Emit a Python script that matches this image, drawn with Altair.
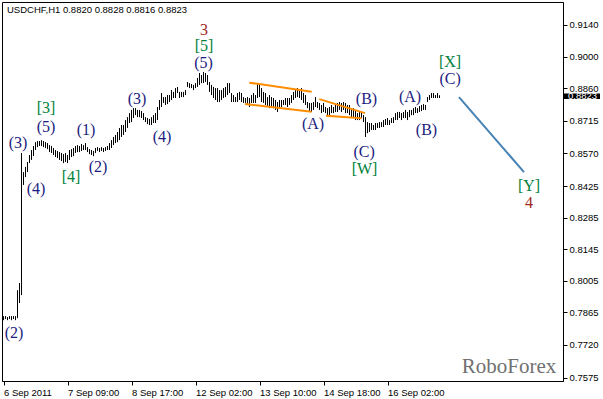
import altair as alt
import pandas as pd

# ---- OHLC bars (H1), high / low ----
highs = [
    0.7848, 0.7848, 0.7844, 0.7848, 0.7848, 0.7848, 0.7848, 0.7963, 0.7995, 0.8572,
    0.8487, 0.8510, 0.8532, 0.8563, 0.8585, 0.8603, 0.8620, 0.8625, 0.8625, 0.8629,
    0.8625, 0.8620, 0.8616, 0.8607, 0.8603, 0.8594, 0.8585, 0.8581, 0.8576, 0.8572,
    0.8567, 0.8572, 0.8563, 0.8585, 0.8589, 0.8594, 0.8603, 0.8607, 0.8603, 0.8612,
    0.8607, 0.8616, 0.8598, 0.8589, 0.8585, 0.8581, 0.8594, 0.8598, 0.8594, 0.8598,
    0.8594, 0.8598, 0.8603, 0.8616, 0.8629, 0.8643, 0.8652, 0.8665, 0.8683, 0.8696,
    0.8696, 0.8718, 0.8731, 0.8749, 0.8763, 0.8771, 0.8771, 0.8763, 0.8763, 0.8758,
    0.8749, 0.8731, 0.8727, 0.8723, 0.8731, 0.8740, 0.8749, 0.8776, 0.8807, 0.8838,
    0.8820, 0.8820, 0.8829, 0.8829, 0.8851, 0.8843, 0.8860, 0.8865, 0.8843, 0.8843,
    0.8843, 0.8851, 0.8887, 0.8882, 0.8878, 0.8874, 0.8882, 0.8905, 0.8927, 0.8918,
    0.8931, 0.8927, 0.8918, 0.8887, 0.8874, 0.8865, 0.8860, 0.8860, 0.8851, 0.8851,
    0.8860, 0.8865, 0.8882, 0.8882, 0.8838, 0.8829, 0.8820, 0.8838, 0.8843, 0.8838,
    0.8820, 0.8816, 0.8820, 0.8816, 0.8829, 0.8838, 0.8829, 0.8882, 0.8874, 0.8860,
    0.8843, 0.8838, 0.8820, 0.8829, 0.8820, 0.8816, 0.8807, 0.8798, 0.8807, 0.8807,
    0.8807, 0.8816, 0.8816, 0.8816, 0.8829, 0.8843, 0.8851, 0.8860, 0.8851, 0.8860,
    0.8838, 0.8829, 0.8798, 0.8794, 0.8794, 0.8798, 0.8820, 0.8798, 0.8794, 0.8785,
    0.8794, 0.8776, 0.8771, 0.8776, 0.8785, 0.8776, 0.8785, 0.8794, 0.8798, 0.8794,
    0.8798, 0.8794, 0.8785, 0.8785, 0.8771, 0.8771, 0.8763, 0.8749, 0.8754, 0.8754,
    0.8740, 0.8731, 0.8709, 0.8705, 0.8705, 0.8696, 0.8705, 0.8705, 0.8709, 0.8709,
    0.8718, 0.8723, 0.8727, 0.8718, 0.8727, 0.8731, 0.8749, 0.8754, 0.8754, 0.8749,
    0.8754, 0.8763, 0.8754, 0.8763, 0.8763, 0.8771, 0.8776, 0.8771, 0.8780, 0.8785,
    0.8789, 0.8785, 0.8820, 0.8829, 0.8838, 0.8838, 0.8829, 0.8838, 0.8828,
]
lows = [
    0.7830, 0.7835, 0.7830, 0.7835, 0.7830, 0.7835, 0.7830, 0.7839, 0.7906, 0.7941,
    0.8430, 0.8465, 0.8487, 0.8527, 0.8541, 0.8558, 0.8585, 0.8598, 0.8603, 0.8603,
    0.8598, 0.8594, 0.8589, 0.8576, 0.8572, 0.8563, 0.8554, 0.8549, 0.8541, 0.8536,
    0.8527, 0.8532, 0.8527, 0.8541, 0.8554, 0.8558, 0.8572, 0.8576, 0.8576, 0.8581,
    0.8585, 0.8585, 0.8576, 0.8567, 0.8563, 0.8558, 0.8572, 0.8581, 0.8576, 0.8581,
    0.8576, 0.8581, 0.8585, 0.8585, 0.8594, 0.8607, 0.8616, 0.8620, 0.8629, 0.8643,
    0.8652, 0.8665, 0.8683, 0.8705, 0.8709, 0.8727, 0.8740, 0.8731, 0.8731, 0.8727,
    0.8718, 0.8709, 0.8700, 0.8696, 0.8696, 0.8705, 0.8705, 0.8718, 0.8763, 0.8776,
    0.8794, 0.8785, 0.8789, 0.8798, 0.8807, 0.8816, 0.8816, 0.8838, 0.8816, 0.8820,
    0.8820, 0.8829, 0.8865, 0.8860, 0.8860, 0.8851, 0.8860, 0.8865, 0.8874, 0.8882,
    0.8882, 0.8887, 0.8874, 0.8843, 0.8829, 0.8816, 0.8807, 0.8798, 0.8798, 0.8807,
    0.8816, 0.8820, 0.8829, 0.8838, 0.8798, 0.8798, 0.8798, 0.8798, 0.8807, 0.8798,
    0.8794, 0.8794, 0.8785, 0.8776, 0.8794, 0.8794, 0.8794, 0.8816, 0.8820, 0.8798,
    0.8794, 0.8785, 0.8776, 0.8771, 0.8776, 0.8771, 0.8763, 0.8754, 0.8771, 0.8776,
    0.8785, 0.8785, 0.8776, 0.8785, 0.8794, 0.8807, 0.8816, 0.8820, 0.8816, 0.8807,
    0.8794, 0.8785, 0.8771, 0.8754, 0.8754, 0.8763, 0.8776, 0.8771, 0.8763, 0.8749,
    0.8754, 0.8749, 0.8740, 0.8740, 0.8749, 0.8749, 0.8754, 0.8754, 0.8763, 0.8754,
    0.8763, 0.8749, 0.8749, 0.8740, 0.8731, 0.8727, 0.8718, 0.8718, 0.8718, 0.8727,
    0.8709, 0.8643, 0.8660, 0.8665, 0.8674, 0.8674, 0.8674, 0.8683, 0.8683, 0.8687,
    0.8687, 0.8696, 0.8696, 0.8696, 0.8705, 0.8705, 0.8718, 0.8718, 0.8727, 0.8718,
    0.8727, 0.8727, 0.8718, 0.8731, 0.8740, 0.8740, 0.8749, 0.8749, 0.8754, 0.8758,
    0.8763, 0.8763, 0.8798, 0.8807, 0.8816, 0.8816, 0.8816, 0.8816, 0.8816,
]
last_close = 0.8823
title_text = "USDCHF,H1  0.8820 0.8828 0.8816 0.8823"

# ---- axes ----
x_ticks = [0, 32, 64, 96, 128, 160, 192]
x_labels = ["6 Sep 2011", "7 Sep 09:00", "8 Sep 17:00", "12 Sep 02:00",
            "13 Sep 10:00", "14 Sep 18:00", "16 Sep 02:00"]
y_ticks = [0.9140, 0.9000, 0.8860, 0.8715, 0.8570, 0.8425, 0.8285,
           0.8145, 0.8005, 0.7865, 0.7720, 0.7575]

# ---- wave labels ----
wave_text = ["(2)", "(3)", "(4)", "(5)", "[3]", "(1)", "[4]", "(2)", "(3)", "(4)",
             "(5)", "[5]", "3", "(A)", "(B)", "(C)", "[W]", "(A)", "(B)", "(C)",
             "[X]", "[Y]", "4"]
wave_t = [5.3, 7.3, 16.3, 21.3, 21.3, 41.3, 33.8, 47.3, 66.8, 79.3,
          100.0, 100.3, 100.3, 154.8, 181.5, 180.3, 180.5, 203.3, 211.5, 223.3,
          223.3, 262.8, 262.8]
wave_p = [0.7773, 0.8616, 0.8412, 0.8687, 0.8771, 0.8674, 0.8465, 0.8510, 0.8811, 0.8643,
          0.8971, 0.9047, 0.9118, 0.8700, 0.8811, 0.8576, 0.8501, 0.8820, 0.8674, 0.8902,
          0.8975, 0.8425, 0.8352]
wave_kind = ["minor", "minor", "minor", "minor", "inter", "minor", "inter", "minor", "minor", "minor",
             "minor", "inter", "major", "minor", "minor", "minor", "inter", "minor", "minor", "minor",
             "inter", "inter", "major"]

# ---- trend lines ----
seg_t1 = [122.9, 120.75, 157.9, 161.25]
seg_t2 = [154.1, 154.1, 180.75, 179.1]
seg_p1 = [0.8884, 0.8789, 0.8811, 0.8737]
seg_p2 = [0.8844, 0.8755, 0.8749, 0.8726]
proj_t = [227.75, 260.25]
proj_p = [0.8820, 0.8487]

bars = pd.DataFrame({"t": list(range(len(highs))), "hi": highs, "lo": lows})
waves = pd.DataFrame({"text": wave_text, "t": wave_t, "p": wave_p, "kind": wave_kind})
segs = pd.DataFrame({"t1": seg_t1, "t2": seg_t2, "p1": seg_p1, "p2": seg_p2})
proj = pd.DataFrame({"t1": [proj_t[0]], "t2": [proj_t[1]], "p1": [proj_p[0]], "p2": [proj_p[1]]})
one = pd.DataFrame({"k": [0]})

xscale = alt.Scale(domain=[-0.75, 279.75], nice=False, zero=False)
yscale = alt.Scale(domain=[0.7560, 0.9242], nice=False, zero=False)

label_expr = "[" + ",".join("'%s'" % s for s in x_labels) + "][round(datum.value/32)]"
xaxis = alt.Axis(values=x_ticks, labelExpr=label_expr, labelAlign="left", title=None,
                 grid=False, tickSize=4, labelPadding=2, labelFlush=False, labelOverlap=False)
yaxis = alt.Axis(orient="right", values=y_ticks, format=".4f", title=None, grid=False,
                 tickSize=4, labelPadding=2, labelOverlap=False, labelFlush=False,
                 labelBaseline="middle")

bar_layer = alt.Chart(bars).mark_rule(color="black", strokeWidth=1).encode(
    x=alt.X("t:Q", scale=xscale, axis=xaxis),
    y=alt.Y("hi:Q", scale=yscale, axis=yaxis),
    y2="lo:Q",
)

seg_layer = alt.Chart(segs).mark_rule(color="#FF8C00", strokeWidth=2).encode(
    x=alt.X("t1:Q", scale=xscale, axis=xaxis), x2="t2:Q",
    y=alt.Y("p1:Q", scale=yscale, axis=yaxis), y2="p2:Q",
)

proj_layer = alt.Chart(proj).mark_rule(color="#4682B4", strokeWidth=2).encode(
    x=alt.X("t1:Q", scale=xscale, axis=xaxis), x2="t2:Q",
    y=alt.Y("p1:Q", scale=yscale, axis=yaxis), y2="p2:Q",
)

wave_layer = alt.Chart(waves).mark_text(
    font="Liberation Serif", fontSize=16, baseline="middle", align="center"
).encode(
    x=alt.X("t:Q", scale=xscale, axis=xaxis),
    y=alt.Y("p:Q", scale=yscale, axis=yaxis),
    text="text:N",
    color=alt.Color("kind:N", scale=alt.Scale(
        domain=["minor", "inter", "major"],
        range=["#1c1c80", "#00803a", "#a0281e"]), legend=None),
)

title_layer = alt.Chart(one).mark_text(
    text=title_text, font="Liberation Sans", fontSize=9.5, align="left",
    baseline="middle", color="black"
).encode(x=alt.value(5), y=alt.value(8))

brand_layer = alt.Chart(one).mark_text(
    text="RoboForex", font="Liberation Serif", fontSize=21, align="center",
    baseline="middle", color="#707070"
).encode(x=alt.value(507), y=alt.value(365))

box_layer = alt.Chart(one).mark_rect(color="black").encode(
    x=alt.value(561), x2=alt.value(598),
    y=alt.YDatum(last_close + 0.0013, type="quantitative", scale=yscale, axis=yaxis),
    y2=alt.Y2Datum(last_close - 0.0012),
)

box_text = alt.Chart(one).mark_text(
    text="%.4f" % last_close, font="Liberation Sans", fontSize=9.5, align="left",
    baseline="middle", color="white"
).encode(
    x=alt.value(566),
    y=alt.YDatum(last_close, type="quantitative", scale=yscale, axis=yaxis),
)

chart = alt.layer(
    bar_layer, seg_layer, proj_layer, wave_layer, title_layer, brand_layer,
    box_layer, box_text
).properties(
    width=561, height=379,
    autosize=alt.AutoSizeParams(type="none"),
    padding={"left": 2, "top": 2, "right": 40, "bottom": 18},
).configure_view(
    stroke="black", strokeWidth=1
).configure_axis(
    domainColor="black", tickColor="black", labelColor="black",
    labelFont="Liberation Sans", labelFontSize=9.5
)

chart.save("out.html", embed_options={"renderer": "svg", "actions": False})
